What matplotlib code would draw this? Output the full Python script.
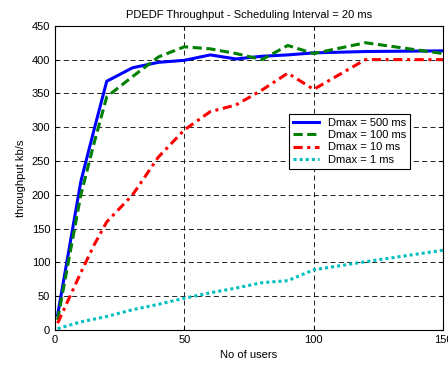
import matplotlib.pyplot as plt

plt.rcParams['font.family'] = ['Liberation Sans', 'DejaVu Sans']

# number of users
users = [1, 10, 15, 20, 30, 40, 50, 60, 70, 80, 90, 100, 120, 150]

dmax_500 = [22, 220, 295, 368, 388, 396, 399, 407, 401, 405, 407, 410, 412, 413]
dmax_100 = [15, 200, 275, 345, 375, 404, 419, 416, 409, 400, 421, 409, 425, 409]
dmax_10 = [10, 85, 125, 160, 200, 256, 296, 323, 333, 355, 380, 356, 400, 400]
dmax_1 = [2, 12, 16, 20, 30, 38, 47, 55, 62, 70, 73, 89, 101, 118]

labels = ['Dmax = 500 ms', 'Dmax = 100 ms', 'Dmax = 10 ms', 'Dmax = 1 ms']

fig = plt.figure(figsize=(4.48, 3.66), dpi=100)
ax = fig.add_axes([0.1228, 0.0984, 0.866, 0.831])

ax.plot(users, dmax_500, color='#0000ff', linestyle='-', linewidth=2.2, label=labels[0])
ax.plot(users, dmax_100, color='#008000', linestyle=(0, (3, 1.5)), linewidth=2.2, label=labels[1])
ax.plot(users, dmax_10, color='#ff0000', linestyle=(0, (3, 1.5, 1, 1.5)), linewidth=2.2, label=labels[2])
ax.plot(users, dmax_1, color='#00bfbf', linestyle=(0, (1, 1)), linewidth=2.2, label=labels[3])

ax.set_xlim(0, 150)
ax.set_ylim(0, 450)
ax.set_xticks([0, 50, 100, 150])
ax.set_yticks(range(0, 451, 50))
ax.tick_params(direction='in', labelsize=8, length=3, top=True, right=True)
ax.grid(True, color='black', linestyle=(0, (6, 4)), linewidth=0.6)
for s in ax.spines.values():
    s.set_linewidth(0.8)

ax.set_title('PDEDF Throughput - Scheduling Interval = 20 ms', fontsize=8)
ax.set_xlabel('No of users', fontsize=8)
ax.set_ylabel('throughput kb/s', fontsize=8)

leg = ax.legend(loc='upper left', bbox_to_anchor=(0.588, 0.73), fontsize=8,
                fancybox=False, framealpha=1, edgecolor='black',
                handlelength=2.3, borderpad=0.4, labelspacing=0.2)
leg.get_frame().set_linewidth(0.8)

fig.savefig('out.png', dpi=100)
